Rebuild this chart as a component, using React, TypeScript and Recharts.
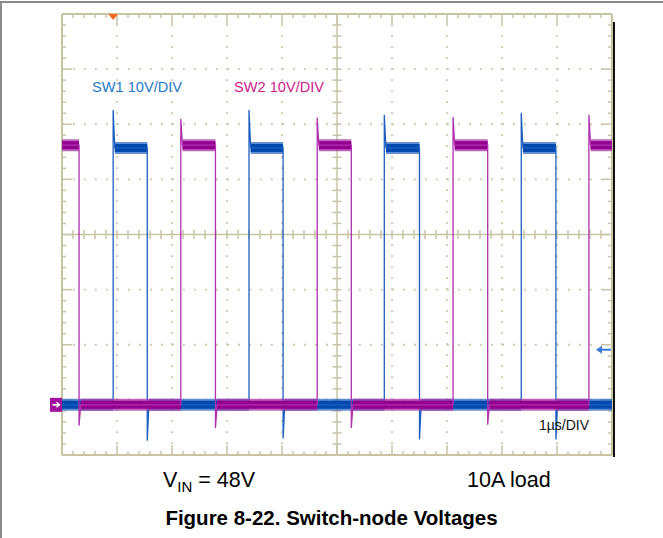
import React from 'react';
import { ComposedChart, Line, XAxis, YAxis, ReferenceLine, ReferenceDot } from 'recharts';

// ---- scope settings ----
const TIME_DOMAIN = [0, 10]; // µs (1 µs/div)
const DIV_DOMAIN = [-4, 4]; // vertical divisions
const VOLTS_PER_DIV = 10;
const GROUND_DIV = -3.09; // channel ground marker position (divisions)
const TRIGGER_TIME = 0.93; // µs
const TRIGGER_LEVEL = 10; // V

// ---- SW1 (blue) ----
const SW1_START_HIGH = false;
const SW1_RISE = [0.93, 3.4, 5.86, 8.35];
const SW1_FALL = [1.55, 4.02, 6.5, 8.98];
const SW1_HIGH = 46.6;
const SW1_SPIKE = [53.5, 53.5, 52.6, 53.0];
const SW1_UNDER = [-6.5, -6.1, -6.3, -6.3];

// ---- SW2 (magenta) ----
const SW2_START_HIGH = true;
const SW2_RISE = [2.16, 4.64, 7.11, 9.58];
const SW2_FALL = [0.31, 2.79, 5.26, 7.74];
const SW2_HIGH = 47.1;
const SW2_SPIKE = [51.9, 52.1, 52.2, 52.6];
const SW2_UNDER = [-3.8, -4.2, -4.2, -3.6];

// ---- styles ----
const W = 663;
const H = 538;
const PX_X = 55; // px per time div
const PX_Y = 55.1; // px per volt div
const GRAT = '#c9c4a6';
const GRAT_DOT = '#c9c4a8';
const BLUE_CORE = '#0049ad';
const BLUE_OUT = '#2f68c6';
const BLUE_EDGE = '#1f5fc0';
const MAG_CORE = '#93008f';
const MAG_OUT = '#aa30a8';
const MAG_EDGE = '#b030b0';

const toDiv = (v: number) => v / VOLTS_PER_DIV + GROUND_DIV;

type Pt = { t: number; v: number | null };

function buildTrace(startHigh: boolean, rises: number[], falls: number[], high: number, spikes: number[], unders: number[]) {
  const edges = [
    ...rises.map((t, i) => ({ t, rise: true, peak: spikes[i] })),
    ...falls.map((t, i) => ({ t, rise: false, peak: unders[i] })),
  ].sort((a, b) => a.t - b.t);
  const thin: Pt[] = [];
  const band: Pt[] = [];
  let level = startHigh ? high : 0;
  thin.push({ t: TIME_DOMAIN[0], v: toDiv(level) });
  band.push({ t: TIME_DOMAIN[0], v: toDiv(level) });
  for (const e of edges) {
    thin.push({ t: e.t, v: toDiv(level) });
    band.push({ t: e.t, v: toDiv(level) });
    band.push({ t: e.t, v: null });
    const next = e.rise ? high : 0;
    thin.push({ t: e.t, v: toDiv(e.peak) });
    const settle = e.t + 0.03;
    thin.push({ t: settle, v: toDiv(next) });
    band.push({ t: settle, v: toDiv(next) });
    level = next;
  }
  thin.push({ t: TIME_DOMAIN[1], v: toDiv(level) });
  band.push({ t: TIME_DOMAIN[1], v: toDiv(level) });
  return { thin, band };
}

const sw1 = buildTrace(SW1_START_HIGH, SW1_RISE, SW1_FALL, SW1_HIGH, SW1_SPIKE, SW1_UNDER);
const sw2 = buildTrace(SW2_START_HIGH, SW2_RISE, SW2_FALL, SW2_HIGH, SW2_SPIKE, SW2_UNDER);

// graticule tick lists
const MINOR_T: number[] = [];
for (let k = 1; k < 50; k++) MINOR_T.push(+(k * 0.2).toFixed(2));
const MINOR_V: number[] = [];
for (let k = 1; k < 40; k++) MINOR_V.push(+(-4 + k * 0.2).toFixed(2));

function graticule() {
  const els: React.ReactNode[] = [];
  const minorLen = 4, majorLen = 10, centerHalf = 4.5;
  MINOR_T.forEach((t, i) => {
    const major = Math.abs(t - Math.round(t)) < 1e-6;
    const len = (major ? majorLen : minorLen) / PX_Y;
    els.push(<ReferenceLine key={`tb${i}`} segment={[{ x: t, y: -4 }, { x: t, y: -4 + len }]} stroke={GRAT} strokeWidth={1.5} ifOverflow="visible" />);
    els.push(<ReferenceLine key={`tt${i}`} segment={[{ x: t, y: 4 }, { x: t, y: 4 - len }]} stroke={GRAT} strokeWidth={1.5} ifOverflow="visible" />);
    if (Math.abs(t - 5) > 1e-6)
      els.push(<ReferenceLine key={`tc${i}`} segment={[{ x: t, y: -centerHalf / PX_Y }, { x: t, y: centerHalf / PX_Y }]} stroke={GRAT} strokeWidth={1.5} ifOverflow="visible" />);
  });
  MINOR_V.forEach((v, i) => {
    const major = Math.abs(v - Math.round(v)) < 1e-6;
    const len = (major ? majorLen : minorLen) / PX_X;
    els.push(<ReferenceLine key={`vl${i}`} segment={[{ x: 0, y: v }, { x: len, y: v }]} stroke={GRAT} strokeWidth={1.5} ifOverflow="visible" />);
    els.push(<ReferenceLine key={`vr${i}`} segment={[{ x: 10, y: v }, { x: 10 - len, y: v }]} stroke={GRAT} strokeWidth={1.5} ifOverflow="visible" />);
    if (Math.abs(v) > 1e-6)
      els.push(<ReferenceLine key={`vc${i}`} segment={[{ x: 5 - centerHalf / PX_X, y: v }, { x: 5 + centerHalf / PX_X, y: v }]} stroke={GRAT} strokeWidth={1.5} ifOverflow="visible" />);
  });
  [1, 2, 3, 4, 6, 7, 8, 9].forEach((t) =>
    els.push(<ReferenceLine key={`gx${t}`} x={t} stroke={GRAT_DOT} strokeWidth={1.8} strokeDasharray="1.8 9.2" ifOverflow="visible" />)
  );
  [-3, -2, -1, 1, 2, 3].forEach((v) =>
    els.push(<ReferenceLine key={`gy${v}`} y={v} stroke={GRAT_DOT} strokeWidth={1.8} strokeDasharray="1.8 9.2" ifOverflow="visible" />)
  );
  els.push(<ReferenceLine key="cx" x={5} stroke={GRAT} strokeWidth={1.5} ifOverflow="visible" />);
  els.push(<ReferenceLine key="cy" y={0} stroke={GRAT} strokeWidth={1.5} ifOverflow="visible" />);
  els.push(<ReferenceLine key="fl" x={0} stroke={GRAT} strokeWidth={2} ifOverflow="visible" />);
  els.push(<ReferenceLine key="fr" x={10} stroke={GRAT} strokeWidth={2} ifOverflow="visible" />);
  els.push(<ReferenceLine key="ft" y={4} stroke={GRAT} strokeWidth={2} ifOverflow="visible" />);
  els.push(<ReferenceLine key="fb" y={-4} stroke={GRAT} strokeWidth={2} ifOverflow="visible" />);
  return els;
}

const TriggerMark = (p: any) => (
  <polygon points={`${p.cx - 5},${p.cy} ${p.cx + 5},${p.cy} ${p.cx},${p.cy + 6}`} fill="#f5661f" />
);
const GroundMark = (p: any) => (
  <g>
    <rect x={p.cx - 12} y={p.cy - 7} width={12} height={14} fill="#a1119d" />
    <path d={`M${p.cx - 9.5} ${p.cy} H${p.cx - 3}`} stroke="#fff" strokeWidth={1.6} />
    <path d={`M${p.cx - 5.5} ${p.cy - 2.5} L${p.cx - 2.5} ${p.cy} L${p.cx - 5.5} ${p.cy + 2.5}`} fill="none" stroke="#fff" strokeWidth={1.4} />
  </g>
);
const LevelMark = (p: any) => (
  <g>
    <path d={`M${p.cx - 13} ${p.cy} H${p.cx - 1}`} stroke="#3a78d8" strokeWidth={2} />
    <polygon points={`${p.cx - 16},${p.cy} ${p.cx - 10},${p.cy - 4} ${p.cx - 10},${p.cy + 4}`} fill="#3a78d8" />
  </g>
);

const txt: React.CSSProperties = { position: 'absolute', lineHeight: 1, whiteSpace: 'nowrap', margin: 0 };

export default function App() {
  return (
    <div style={{ position: 'absolute', left: 0, top: 0, width: W, height: H, background: '#fff', fontFamily: '"Liberation Sans", Arial, sans-serif', overflow: 'hidden' }}>
      <ComposedChart width={W} height={H} margin={{ left: 62, right: 51, top: 14, bottom: 83 }}>
        <XAxis type="number" dataKey="t" domain={TIME_DOMAIN} hide allowDataOverflow />
        <YAxis type="number" dataKey="v" domain={DIV_DOMAIN} hide allowDataOverflow />
        {graticule()}
        <Line data={sw1.band} dataKey="v" stroke={BLUE_OUT} strokeOpacity={0.75} strokeWidth={12} strokeLinecap="butt" dot={false} activeDot={false} isAnimationActive={false} connectNulls={false} />
        <Line data={sw1.band} dataKey="v" stroke={BLUE_CORE} strokeWidth={8} strokeLinecap="butt" dot={false} activeDot={false} isAnimationActive={false} connectNulls={false} />
        <Line data={sw1.thin} dataKey="v" stroke={BLUE_EDGE} strokeWidth={1.3} dot={false} activeDot={false} isAnimationActive={false} />
        <Line data={sw2.band} dataKey="v" stroke={MAG_OUT} strokeOpacity={0.75} strokeWidth={12} strokeLinecap="butt" dot={false} activeDot={false} isAnimationActive={false} connectNulls={false} />
        <Line data={sw2.band} dataKey="v" stroke={MAG_CORE} strokeWidth={8} strokeLinecap="butt" dot={false} activeDot={false} isAnimationActive={false} connectNulls={false} />
        <Line data={sw2.thin} dataKey="v" stroke={MAG_EDGE} strokeWidth={1.3} dot={false} activeDot={false} isAnimationActive={false} />
        <ReferenceDot x={TRIGGER_TIME} y={DIV_DOMAIN[1]} r={0} shape={TriggerMark} ifOverflow="visible" />
        <ReferenceDot x={TIME_DOMAIN[0]} y={GROUND_DIV} r={0} shape={GroundMark} ifOverflow="visible" />
        <ReferenceDot x={TIME_DOMAIN[1]} y={toDiv(TRIGGER_LEVEL)} r={0} shape={LevelMark} ifOverflow="visible" />
      </ComposedChart>
      {/* page frame */}
      <div style={{ position: 'absolute', left: 0, top: 1, width: W, height: 2, background: '#8a8a8a' }} />
      <div style={{ position: 'absolute', left: 0, top: 1, width: 2, height: H, background: '#8a8a8a' }} />
      <div style={{ position: 'absolute', left: 613, top: 22, width: 2, height: 435, background: '#111' }} />
      {/* labels */}
      <div style={{ ...txt, left: 92, top: 80, fontSize: 14.6, color: '#1f78c8' }}>SW1 10V/DIV</div>
      <div style={{ ...txt, left: 234, top: 80, fontSize: 14.6, color: '#d0208c' }}>SW2 10V/DIV</div>
      <div style={{ ...txt, left: 539, top: 418, fontSize: 14, color: '#111' }}>1µs/DIV</div>
      <div style={{ ...txt, left: 163, top: 470, fontSize: 21.5, color: '#000' }}>
        V<span style={{ fontSize: 15, position: 'relative', top: 5 }}>IN</span> = 48V
      </div>
      <div style={{ ...txt, left: 467, top: 470, fontSize: 21.5, color: '#000' }}>10A load</div>
      <div style={{ ...txt, left: 0, width: W, textAlign: 'center', top: 508, fontSize: 20.5, fontWeight: 'bold', color: '#000' }}>
        Figure 8-22. Switch-node Voltages
      </div>
    </div>
  );
}
